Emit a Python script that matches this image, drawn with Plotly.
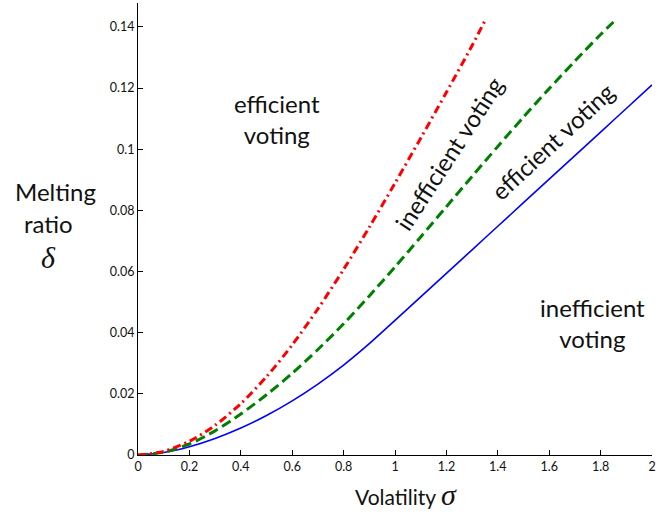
import plotly.graph_objects as go

# Data
sigma_red = [0, 0.1, 0.2, 0.3, 0.4, 0.5, 0.6, 0.7, 0.8, 0.9, 1.0, 1.1, 1.2, 1.3, 1.35]
delta_red = [0, 0.0012, 0.0045, 0.0097, 0.0168, 0.0256, 0.0360, 0.0478, 0.0607, 0.0745,
             0.0889, 0.1036, 0.1186, 0.1339, 0.1420]

sigma_green = [0, 0.1, 0.2, 0.3, 0.4, 0.5, 0.6, 0.7, 0.8, 0.9, 1.0, 1.1, 1.2, 1.3, 1.4,
               1.5, 1.6, 1.7, 1.8, 1.85]
delta_green = [0, 0.0009, 0.0036, 0.0079, 0.0134, 0.0197, 0.0267, 0.0345, 0.0429, 0.0520,
               0.0615, 0.0713, 0.0812, 0.0911, 0.1009, 0.1105, 0.1198, 0.1288, 0.1375, 0.1416]

sigma_blue = [0, 0.1, 0.2, 0.3, 0.4, 0.5, 0.6, 0.7, 0.8, 0.9, 1.0, 1.1, 1.2, 1.3, 1.4,
              1.5, 1.6, 1.7, 1.8, 1.9, 2.0]
delta_blue = [0, 0.0008, 0.0027, 0.0054, 0.0088, 0.0129, 0.0177, 0.0232, 0.0294, 0.0364,
              0.0440, 0.0517, 0.0594, 0.0671, 0.0748, 0.0825, 0.0902, 0.0979, 0.1056,
              0.1133, 0.1210]

x_tickvals = [0, 0.2, 0.4, 0.6, 0.8, 1.0, 1.2, 1.4, 1.6, 1.8, 2.0]
x_ticktext = ["0", "0.2", "0.4", "0.6", "0.8", "1", "1.2", "1.4", "1.6", "1.8", "2"]
y_tickvals = [0, 0.02, 0.04, 0.06, 0.08, 0.10, 0.12, 0.14]
y_ticktext = ["0", "0.02", "0.04", "0.06", "0.08", "0.1", "0.12", "0.14"]

FONT = "Lato"
TXT = "#111111"

fig = go.Figure()
fig.add_trace(go.Scatter(x=sigma_blue, y=delta_blue, mode="lines",
                         line=dict(color="#0000ff", width=1.6, shape="spline", smoothing=0.8),
                         showlegend=False))
fig.add_trace(go.Scatter(x=sigma_green, y=delta_green, mode="lines",
                         line=dict(color="#008000", width=3, dash="10px,5px",
                                   shape="spline", smoothing=0.8),
                         showlegend=False))
fig.add_trace(go.Scatter(x=sigma_red, y=delta_red, mode="lines",
                         line=dict(color="#ff0000", width=3, dash="8px,4px,2px,4px",
                                   shape="spline", smoothing=0.8),
                         showlegend=False))

ann = [
    dict(x=0.541, y=0.110, text="efficient<br>voting", textangle=0, size=24),
    dict(x=1.767, y=0.0431, text="inefficient<br>voting", textangle=0, size=24),
    dict(x=1.21, y=0.0985, text="inefficient voting", textangle=-57, size=24),
    dict(x=1.611, y=0.1025, text="efficient voting", textangle=-43, size=24),
]
for a in ann:
    fig.add_annotation(x=a["x"], y=a["y"], xref="x", yref="y", text=a["text"],
                       textangle=a["textangle"], showarrow=False,
                       font=dict(family=FONT, size=a["size"], color=TXT),
                       xanchor="center", yanchor="middle", align="center")

# axis titles as annotations (pixel-based paper coords)
fig.add_annotation(xref="paper", yref="paper", x=(406 - 138) / 514, y=-(494 - 455) / 452,
                   text="Volatility <i><span style='font-family:Liberation Serif;font-size:30px'>σ</span></i>",
                   showarrow=False, font=dict(family=FONT, size=21, color=TXT),
                   xanchor="center", yanchor="middle")
fig.add_annotation(xref="paper", yref="paper", x=(55 - 138) / 514, y=(455 - 191) / 452,
                   text="Melting", showarrow=False, font=dict(family=FONT, size=24, color=TXT),
                   xanchor="center", yanchor="middle")
fig.add_annotation(xref="paper", yref="paper", x=(48 - 138) / 514, y=(455 - 223) / 452,
                   text="ratio", showarrow=False, font=dict(family=FONT, size=24, color=TXT),
                   xanchor="center", yanchor="middle")
fig.add_annotation(xref="paper", yref="paper", x=(48 - 138) / 514, y=(455 - 257) / 452,
                   text="<i>δ</i>", showarrow=False,
                   font=dict(family="Liberation Serif", size=30, color=TXT),
                   xanchor="center", yanchor="middle")

axis_common = dict(showline=True, linecolor="#000000", linewidth=1, ticks="inside",
                   ticklen=5, tickcolor="#000000", showgrid=False, zeroline=False,
                   tickfont=dict(family=FONT, size=12.5, color=TXT))
fig.update_xaxes(range=[0, 2], tickvals=x_tickvals, ticktext=x_ticktext, **axis_common)
fig.update_yaxes(range=[0, 0.1478], tickvals=y_tickvals, ticktext=y_ticktext, **axis_common)

fig.update_layout(width=659, height=516, margin=dict(l=138, r=7, t=3, b=61),
                  plot_bgcolor="white", paper_bgcolor="white")

fig.write_html("out.html", config={"displayModeBar": False},
               post_script="document.body.style.margin='0';")
